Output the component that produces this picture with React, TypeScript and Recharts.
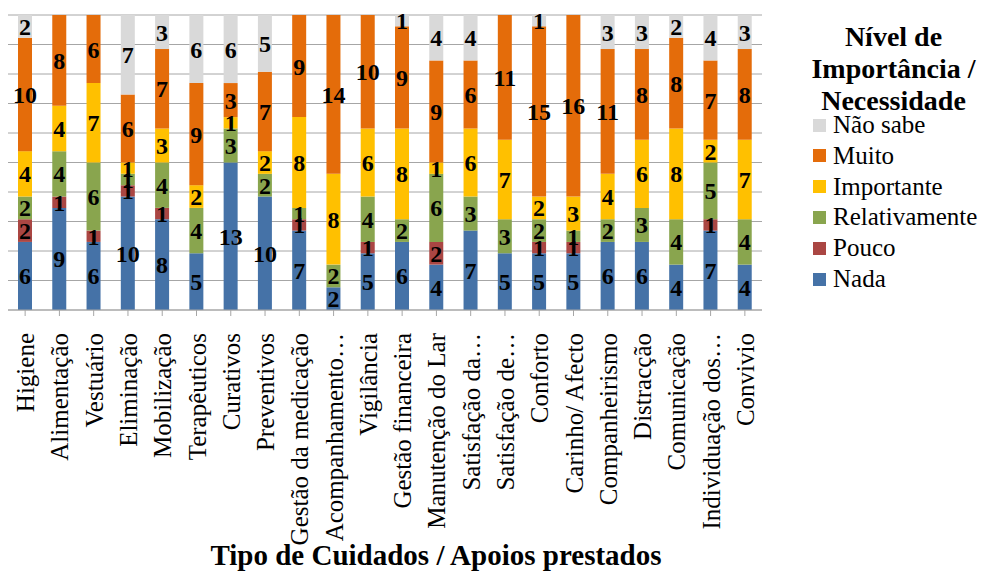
import React from 'react';
import { BarChart, Bar, XAxis, YAxis, CartesianGrid, Legend, LabelList } from 'recharts';

const categories = ['Higiene', 'Alimentação', 'Vestuário', 'Eliminação', 'Mobilização', 'Terapêuticos', 'Curativos', 'Preventivos', 'Gestão da medicação', 'Acompanhamento…', 'Vigilância', 'Gestão financeira', 'Manutenção do Lar', 'Satisfação da…', 'Satisfação de…', 'Conforto', 'Carinho/ Afecto', 'Companheirismo', 'Distracção', 'Comunicação', 'Individuação dos…', 'Convivio'];
const nada = [6, 9, 6, 10, 8, 5, 13, 10, 7, 2, 5, 6, 4, 7, 5, 5, 5, 6, 6, 4, 7, 4];
const pouco = [2, 1, 1, 1, 1, 0, 0, 0, 1, 0, 1, 0, 2, 0, 0, 1, 1, 0, 0, 0, 1, 0];
const relativamente = [2, 4, 6, 1, 4, 4, 3, 2, 1, 2, 4, 2, 6, 3, 3, 2, 1, 2, 3, 4, 5, 4];
const importante = [4, 4, 7, 1, 3, 2, 1, 2, 8, 8, 6, 8, 1, 6, 7, 2, 3, 4, 6, 8, 2, 7];
const muito = [10, 8, 6, 6, 7, 9, 3, 7, 9, 14, 10, 9, 9, 6, 11, 15, 16, 11, 8, 8, 7, 8];
const naoSabe = [2, 0, 0, 7, 3, 6, 6, 5, 0, 0, 0, 1, 4, 4, 0, 1, 0, 3, 3, 2, 4, 3];

const seriesNames = ['Nada', 'Pouco', 'Relativamente', 'Importante', 'Muito', 'Não sabe'];
const seriesKeys = ['nada', 'pouco', 'relativamente', 'importante', 'muito', 'naoSabe'];
const seriesColors = ['#4572A7', '#AA4643', '#89A54E', '#FFC000', '#E46C0A', '#D9D9D9'];
const seriesValues = [nada, pouco, relativamente, importante, muito, naoSabe];
const total = 26;
const gridTicks = [0, 1, 2, 3, 4, 5, 6, 7, 8, 9, 10].map((i) => (total * i) / 10);

const xAxisTitle = 'Tipo de Cuidados / Apoios prestados';
const legendTitle = ['Nível de', 'Importância /', 'Necessidade'];

const data = categories.map((c, i) => {
  const row: any = { name: c };
  seriesKeys.forEach((k, s) => {
    row[k] = seriesValues[s][i];
  });
  return row;
});

const FONT = '"Liberation Serif", "Times New Roman", serif';

const XTick = (props: any) => {
  const { x, payload } = props;
  return (
    <text
      transform={`translate(${x + 9},333) rotate(-90)`}
      textAnchor="end"
      fontFamily={FONT}
      fontSize={25}
      fill="#000"
    >
      {payload.value}
    </text>
  );
};

const LegendContent = () => (
  <div style={{ fontFamily: FONT, color: '#000', position: 'relative', width: 187, height: 290 }}>
    {legendTitle.map((t, i) => (
      <div
        key={t}
        style={{
          position: 'absolute',
          left: 0,
          width: 187,
          top: 1 + i * 32,
          textAlign: 'center',
          fontWeight: 'bold',
          fontSize: 28,
          lineHeight: '32px',
          whiteSpace: 'nowrap',
        }}
      >
        {t}
      </div>
    ))}
    {seriesNames
      .map((n, i) => ({ n, c: seriesColors[i] }))
      .reverse()
      .map((it, i) => (
        <div
          key={it.n}
          style={{
            position: 'absolute',
            left: 13,
            top: 90 + i * 30.8,
            height: 30,
            display: 'flex',
            alignItems: 'center',
            fontSize: 25,
            whiteSpace: 'nowrap',
          }}
        >
          <span style={{ display: 'inline-block', width: 13, height: 13, background: it.c, marginRight: 7 }} />
          <span>{it.n}</span>
        </div>
      ))}
  </div>
);

export default function App() {
  return (
    <div style={{ position: 'absolute', left: 0, top: 0 }}>
      <BarChart
        width={987}
        height={571}
        data={data}
        margin={{ top: 15, right: 225, bottom: 0, left: 8 }}
        barSize={14}
      >
        <CartesianGrid horizontal vertical={false} stroke="#A6A6A6" strokeWidth={1} />
        <YAxis hide domain={[0, total]} ticks={gridTicks} type="number" allowDataOverflow />
        <XAxis
          dataKey="name"
          interval={0}
          height={261}
          tick={<XTick />}
          tickLine={{ stroke: '#A6A6A6' }}
          tickSize={6}
          axisLine={{ stroke: '#A6A6A6' }}
          label={{
            content: () => (
              <text x={436} y={565} textAnchor="middle" fontFamily={FONT} fontSize={29} fontWeight="bold" fill="#000">
                {xAxisTitle}
              </text>
            ),
          }}
        />
        <Legend
          layout="vertical"
          align="center"
          verticalAlign="middle"
          content={<LegendContent />}
          wrapperStyle={{ position: 'absolute', left: 800, top: 20, width: 187 }}
        />
        {seriesKeys.map((k, s) => (
          <Bar key={k} dataKey={k} name={seriesNames[s]} stackId="a" fill={seriesColors[s]} isAnimationActive={false}>
            <LabelList
              dataKey={k}
              position="center"
              formatter={(v: any) => (v ? v : '')}
              fill="#000"
              fontSize={24}
              fontWeight="bold"
              fontFamily={FONT}
            />
          </Bar>
        ))}
      </BarChart>
    </div>
  );
}
